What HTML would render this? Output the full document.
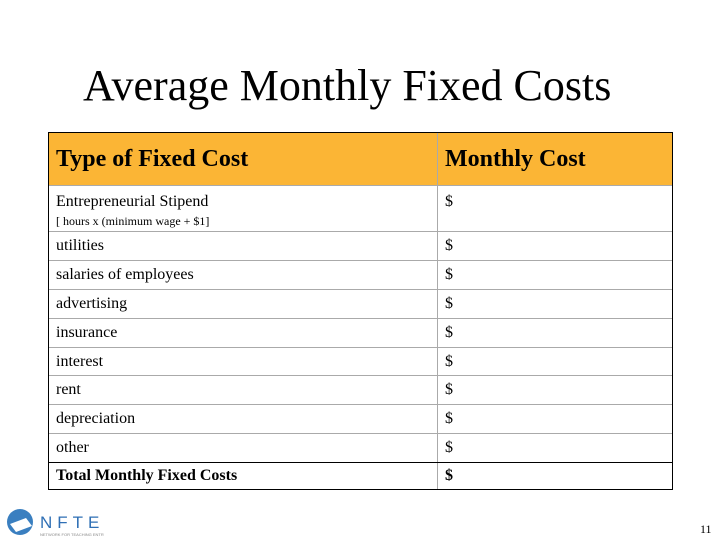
<!DOCTYPE html>
<html><head><meta charset="utf-8">
<style>
body{margin:0;width:720px;height:540px;background:#fff;position:relative;overflow:hidden;font-family:"Liberation Serif",serif;color:#000}
.title{position:absolute;left:83px;top:62px;font-size:44px;white-space:nowrap;line-height:1.1}
.tbl{position:absolute;left:48px;top:132px;width:625px;height:358px;border:1.5px solid #000;box-sizing:border-box}
.row{position:absolute;left:0;width:100%;border-bottom:1px solid #aaa;box-sizing:border-box}
.cell{position:absolute;top:0;height:100%;box-sizing:border-box;padding-left:7px;font-size:16px;display:flex;align-items:center;white-space:nowrap}
.c1{left:0;width:389px;border-right:1px solid #aaa}
.c2{left:389px;width:236px;padding-left:7px}
.hd{background:#fbb535}
.hd .cell{font-weight:bold;font-size:24px}
.st .cell{align-items:flex-start;padding-top:7px;flex-direction:column}
.small{font-size:12px;margin-top:3px}
.logo{position:absolute;left:4px;top:506px}
.pg{position:absolute;left:700px;top:522px;font-size:12px}
</style></head><body>
<div class="title">Average Monthly Fixed Costs</div>
<div class="tbl">
<div class="row hd" style="top:0;height:53px"><div class="cell c1">Type of Fixed Cost</div><div class="cell c2">Monthly Cost</div></div>
<div class="row st" style="top:53px;height:46px"><div class="cell c1"><span>Entrepreneurial Stipend</span><span class="small">[ hours x (minimum wage + $1]</span></div><div class="cell c2">$</div></div>
<div class="row" style="top:99px;height:29px"><div class="cell c1">utilities</div><div class="cell c2">$</div></div>
<div class="row" style="top:128px;height:29px"><div class="cell c1">salaries of employees</div><div class="cell c2">$</div></div>
<div class="row" style="top:157px;height:29px"><div class="cell c1">advertising</div><div class="cell c2">$</div></div>
<div class="row" style="top:186px;height:29px"><div class="cell c1">insurance</div><div class="cell c2">$</div></div>
<div class="row" style="top:215px;height:28px"><div class="cell c1">interest</div><div class="cell c2">$</div></div>
<div class="row" style="top:243px;height:29px"><div class="cell c1">rent</div><div class="cell c2">$</div></div>
<div class="row" style="top:272px;height:29px"><div class="cell c1">depreciation</div><div class="cell c2">$</div></div>
<div class="row" style="top:301px;height:29px;border-bottom:1.5px solid #000"><div class="cell c1">other</div><div class="cell c2">$</div></div>
<div class="row" style="top:330px;height:26px;border-bottom:none;font-weight:bold"><div class="cell c1">Total Monthly Fixed Costs</div><div class="cell c2">$</div></div>
</div>
<div class="logo">
<svg width="100" height="32"><circle cx="16" cy="16" r="13" fill="#3a7fc0"/><path d="M6 18 L22 12 L28 20 L12 26Z" fill="#fff"/><text x="36" y="22" font-family="Liberation Sans" font-size="17" fill="#2f6fb5" letter-spacing="5">NFTE</text><text x="36" y="30" font-family="Liberation Sans" font-size="4" fill="#888">NETWORK FOR TEACHING ENTREPRENEURSHIP</text></svg>
</div>
<div class="pg">11</div>
</body></html>
